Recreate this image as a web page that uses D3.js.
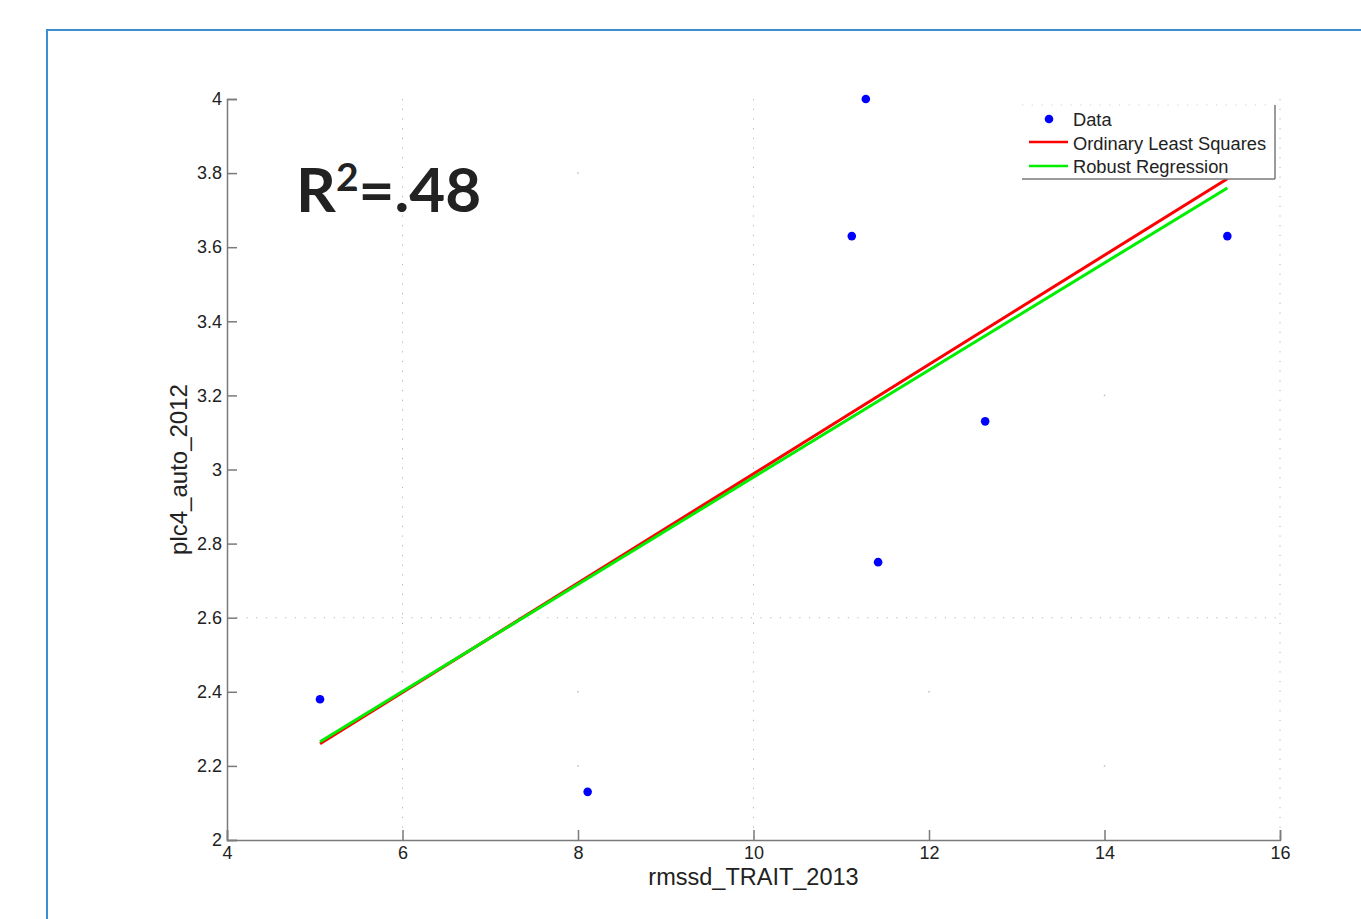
<!DOCTYPE html>
<html>
<head>
<meta charset="utf-8">
<script src="https://cdn.jsdelivr.net/npm/d3@7"></script>
<style>
  body { margin: 0; background: #fff; }
  svg { display: block; }
  text { font-family: "Liberation Sans", Arial, sans-serif; fill: #222; }
</style>
</head>
<body>
<div id="chart"></div>
<script>
const width = 1361;
const height = 919;

/*
Data
*/
const xData = [5.06, 8.11, 11.12, 11.28, 11.42, 12.64, 15.40];
const yData = [2.38, 2.13, 3.63, 4.00, 2.75, 3.13, 3.63];
const fitX = [5.06, 15.40];
const olsY = [2.26, 3.785];
const robustY = [2.265, 3.76];
const xTicks = [4, 6, 8, 10, 12, 14, 16];
const yTicks = [2, 2.2, 2.4, 2.6, 2.8, 3, 3.2, 3.4, 3.6, 3.8, 4];
const xGrid = [6, 10, 16];
const yGrid = [2.6];
// stray grid dots left over in the exported picture
const gridDotX = [8, 8, 8, 12, 14, 14];
const gridDotY = [3.8, 2.4, 2.2, 2.4, 3.2, 2.2];
const legendNames = ["Data", "Ordinary Least Squares", "Robust Regression"];

const svg = d3.select("#chart")
	.append("svg")
	.attr("width", width)
	.attr("height", height);

// blue frame round the figure
svg.append("rect")
	.attr("x", 47)
	.attr("y", 30)
	.attr("width", 1400)
	.attr("height", 1000)
	.attr("fill", "none")
	.attr("stroke", "#3b8fd2")
	.attr("stroke-width", 2);

const x = d3.scaleLinear().domain([4, 16]).range([227, 1280]);
const y = d3.scaleLinear().domain([2, 4]).range([840, 99]);

/*
Grid
*/
const grid = svg.append("g")
	.attr("stroke", "#b5b5b5")
	.attr("stroke-width", 1)
	.attr("stroke-dasharray", "1.2 8.5");
grid.selectAll(".vgrid")
	.data(xGrid)
	.enter()
	.append("line")
	.attr("x1", (d) => x(d))
	.attr("x2", (d) => x(d))
	.attr("y1", y(4))
	.attr("y2", y(2));
grid.selectAll(".hgrid")
	.data(yGrid)
	.enter()
	.append("line")
	.attr("x1", x(4))
	.attr("x2", x(16))
	.attr("y1", (d) => y(d))
	.attr("y2", (d) => y(d));
svg.selectAll(".gdot")
	.data(gridDotX)
	.enter()
	.append("rect")
	.attr("x", (d) => x(d) - 0.7)
	.attr("y", (d, i) => y(gridDotY[i]) - 0.7)
	.attr("width", 1.4)
	.attr("height", 1.4)
	.attr("fill", "#b5b5b5");

/*
Axes
*/
const axisColor = "#7a7a7a";
const yAxis = svg.append("g")
	.attr("transform", `translate(${x(4)},0)`)
	.call(d3.axisLeft(y).tickValues(yTicks).tickSize(-10).tickPadding(15)
		.tickFormat(d3.format("~g")));
const xAxis = svg.append("g")
	.attr("transform", `translate(0,${y(2)})`)
	.call(d3.axisBottom(x).tickValues(xTicks).tickSize(-10).tickPadding(16)
		.tickFormat(d3.format("~g")));
[xAxis, yAxis].forEach((a) => {
	a.select(".domain").attr("stroke", axisColor).attr("stroke-width", 1.5);
	a.selectAll(".tick line").attr("stroke", axisColor).attr("stroke-width", 1.5);
	a.selectAll(".tick text")
		.attr("fill", "#1a1a1a")
		.style("font-family", "'Liberation Sans', Arial, sans-serif")
		.style("font-size", "18px");
});
yAxis.selectAll(".tick text").attr("x", -5);
xAxis.selectAll(".tick text").attr("y", 6);

svg.append("text")
	.attr("transform", `translate(187,${(y(2) + y(4)) / 2}) rotate(-90)`)
	.attr("text-anchor", "middle")
	.style("font-size", "24px")
	.text("plc4_auto_2012");
svg.append("text")
	.attr("x", (x(4) + x(16)) / 2)
	.attr("y", 885)
	.attr("text-anchor", "middle")
	.style("font-size", "23.5px")
	.text("rmssd_TRAIT_2013");

/*
Fit lines and points
*/
const line = d3.line().x((d) => x(d[0])).y((d) => y(d[1]));
svg.append("path")
	.attr("d", line(fitX.map((d, i) => [d, olsY[i]])))
	.attr("fill", "none")
	.attr("stroke", "#ff0000")
	.attr("stroke-width", 3);
svg.append("path")
	.attr("d", line(fitX.map((d, i) => [d, robustY[i]])))
	.attr("fill", "none")
	.attr("stroke", "#00ee00")
	.attr("stroke-width", 3);

svg.selectAll(".pt")
	.data(xData)
	.enter()
	.append("circle")
	.attr("cx", (d) => x(d))
	.attr("cy", (d, i) => y(yData[i]))
	.attr("r", 4.3)
	.attr("fill", "#0000ff");

/*
R squared label
*/
const r2 = svg.append("text")
	.attr("x", 296)
	.attr("y", 212)
	.style("font-family", "Lato, 'Open Sans', sans-serif")
	.style("font-weight", "bold")
	.style("font-size", "62px")
	.attr("fill", "#000");
r2.append("tspan").text("R");
r2.append("tspan").attr("dy", -21).style("font-size", "39px").text("2");
r2.append("tspan").attr("dy", 21).text("=.48");

/*
Legend
*/
const leg = svg.append("g");
leg.append("rect")
	.attr("x", 1022)
	.attr("y", 105)
	.attr("width", 253)
	.attr("height", 74)
	.attr("fill", "#fff");
leg.append("line")
	.attr("x1", 1022).attr("x2", 1275).attr("y1", 105).attr("y2", 105)
	.attr("stroke", "#d0d0d0").attr("stroke-dasharray", "1.2 8.5");
leg.append("line")
	.attr("x1", 1022).attr("x2", 1275).attr("y1", 179).attr("y2", 179)
	.attr("stroke", "#7a7a7a").attr("stroke-width", 1.5);
leg.append("line")
	.attr("x1", 1275).attr("x2", 1275).attr("y1", 105).attr("y2", 179)
	.attr("stroke", "#7a7a7a").attr("stroke-width", 1.5);
leg.append("circle")
	.attr("cx", 1049).attr("cy", 119).attr("r", 4.3).attr("fill", "#0000ff");
leg.append("line")
	.attr("x1", 1029).attr("x2", 1068).attr("y1", 142).attr("y2", 142)
	.attr("stroke", "#ff0000").attr("stroke-width", 2.5);
leg.append("line")
	.attr("x1", 1029).attr("x2", 1068).attr("y1", 166).attr("y2", 166)
	.attr("stroke", "#00ee00").attr("stroke-width", 2.5);
leg.selectAll(".ltxt")
	.data(legendNames)
	.enter()
	.append("text")
	.attr("x", 1073)
	.attr("y", (d, i) => 126 + i * 23.5)
	.style("font-size", "18.3px")
	.attr("fill", "#1a1a1a")
	.text((d) => d);
</script>
</body>
</html>
